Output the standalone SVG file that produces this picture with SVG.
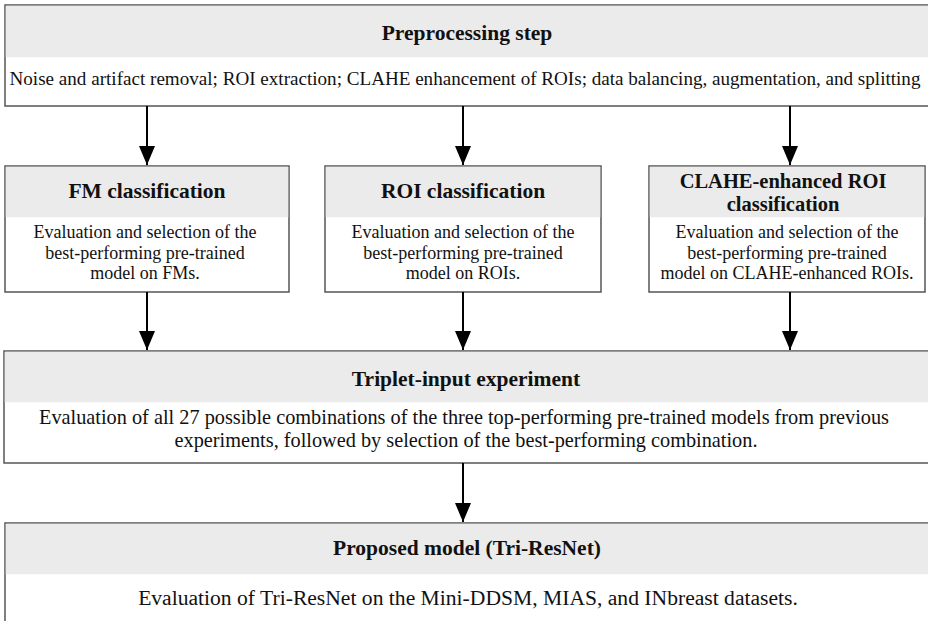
<svg xmlns="http://www.w3.org/2000/svg" width="928" height="621" viewBox="0 0 928 621">
<defs>
<style>
.box{fill:#ffffff;stroke:#555555;stroke-width:1.5}
.hdr{fill:#ebebeb}
text{font-family:'Liberation Serif','Times New Roman',Times,'DejaVu Serif',serif;fill:#111;text-anchor:middle}
.h{font-weight:bold;font-size:21.5px}
.t{font-size:18px}
.c{stroke:#000;stroke-width:2;fill:none}
</style>
<marker id="ah" markerWidth="19" markerHeight="16" refX="19" refY="8" orient="auto" markerUnits="userSpaceOnUse" viewBox="0 0 19 16">
<path d="M0,0 L19,8 L0,16 Z" fill="#000"/>
</marker>
</defs>
<rect width="928" height="621" fill="#ffffff"/>

<g id="preprocessing">
<rect class="box" x="5" y="5" width="930" height="101"/>
<rect class="hdr" x="5.75" y="5.75" width="928" height="51.5"/>
<text class="h" x="467" y="40">Preprocessing step</text>
<text class="t" x="465" y="85" style="font-size:19.1px">Noise and artifact removal; ROI extraction; CLAHE enhancement of ROIs; data balancing, augmentation, and splitting</text>
</g>

<g id="fm">
<rect class="box" x="5" y="166" width="284" height="126"/>
<rect class="hdr" x="5.75" y="166.75" width="282.5" height="50.5"/>
<text class="h" x="147" y="198">FM classification</text>
<text class="t" x="145" y="238">Evaluation and selection of the</text>
<text class="t" x="145" y="258.5">best-performing pre-trained</text>
<text class="t" x="145" y="279">model on FMs.</text>
</g>

<g id="roi">
<rect class="box" x="325" y="166" width="276" height="126"/>
<rect class="hdr" x="325.75" y="166.75" width="274.5" height="50.5"/>
<text class="h" x="463" y="198">ROI classification</text>
<text class="t" x="463" y="238">Evaluation and selection of the</text>
<text class="t" x="463" y="258.5">best-performing pre-trained</text>
<text class="t" x="463" y="279">model on ROIs.</text>
</g>

<g id="clahe">
<rect class="box" x="649" y="166" width="276" height="126"/>
<rect class="hdr" x="649.75" y="166.75" width="274.5" height="50.5"/>
<text class="h" x="783" y="187.5" style="font-size:20.5px">CLAHE-enhanced ROI</text>
<text class="h" x="783" y="210.5" style="font-size:20.5px">classification</text>
<text class="t" x="787" y="238">Evaluation and selection of the</text>
<text class="t" x="787" y="258.5">best-performing pre-trained</text>
<text class="t" x="787" y="279">model on CLAHE-enhanced ROIs.</text>
</g>

<g id="triplet">
<rect class="box" x="4" y="351" width="931" height="112"/>
<rect class="hdr" x="4.75" y="351.75" width="929" height="50.5"/>
<text class="h" x="466" y="386">Triplet-input experiment</text>
<text class="t" x="464" y="424" style="font-size:20.3px">Evaluation of all 27 possible combinations of the three top-performing pre-trained models from previous</text>
<text class="t" x="466" y="447" style="font-size:20.3px">experiments, followed by selection of the best-performing combination.</text>
</g>

<g id="proposed">
<rect class="box" x="5" y="523" width="930" height="110"/>
<rect class="hdr" x="5.75" y="523.75" width="928" height="50.5"/>
<text class="h" x="467" y="555">Proposed model (Tri-ResNet)</text>
<text class="t" x="468" y="605" style="font-size:21.6px">Evaluation of Tri-ResNet on the Mini-DDSM, MIAS, and INbreast datasets.</text>
</g>

<g id="connectors">
<line class="c" x1="147" y1="106" x2="147" y2="165" marker-end="url(#ah)"/>
<line class="c" x1="463" y1="106" x2="463" y2="165" marker-end="url(#ah)"/>
<line class="c" x1="790" y1="106" x2="790" y2="165" marker-end="url(#ah)"/>
<line class="c" x1="147" y1="292" x2="147" y2="350" marker-end="url(#ah)"/>
<line class="c" x1="463" y1="292" x2="463" y2="350" marker-end="url(#ah)"/>
<line class="c" x1="790" y1="292" x2="790" y2="350" marker-end="url(#ah)"/>
<line class="c" x1="463" y1="463" x2="463" y2="522" marker-end="url(#ah)"/>
</g>
</svg>
